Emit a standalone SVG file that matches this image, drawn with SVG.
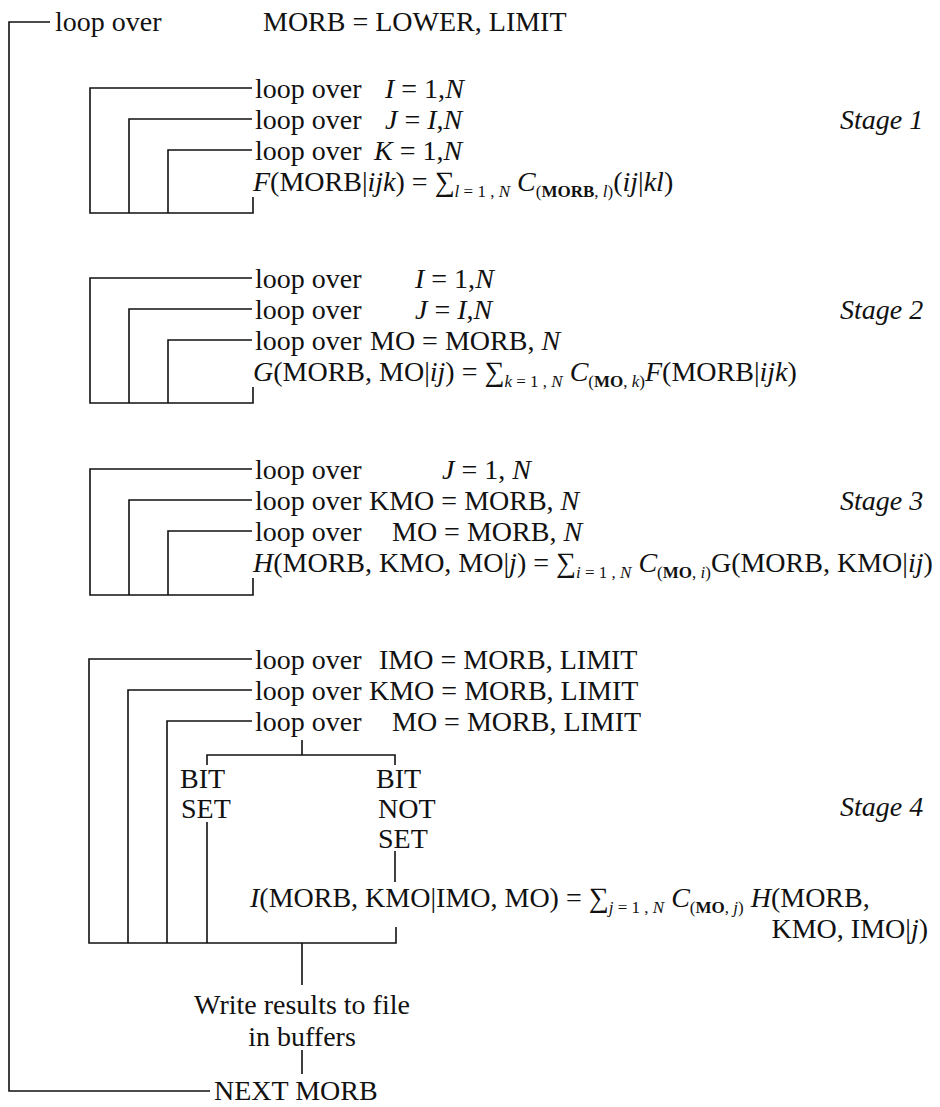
<svg xmlns="http://www.w3.org/2000/svg" width="940" height="1107" viewBox="0 0 940 1107">
<style>
.t{font-family:"Liberation Serif","Times New Roman",serif;font-size:28px;fill:#111}
.i{font-style:italic}
.s{font-size:17px}
.b{font-weight:bold}
.ln{stroke:#111;stroke-width:1.6;fill:none}
</style>
<rect width="940" height="1107" fill="#fff"/>
<g id="connectors" class="ln">
<path d="M50,22H9V1091H210"/>
<path d="M252,88H90V213H253V197"/>
<path d="M252,119H129V213"/>
<path d="M252,150H168V213"/>
<path d="M252,278H90V403H253V387"/>
<path d="M252,309H129V403"/>
<path d="M252,340H168V403"/>
<path d="M252,469H90V595H253V578"/>
<path d="M252,500H129V595"/>
<path d="M252,531H168V595"/>
<path d="M252,659H89V943H396V927"/>
<path d="M252,690H128V943"/>
<path d="M252,721H167V943"/>
<path d="M302,740V755M207,765V755H395V765"/>
<path d="M207,822V943"/>
<path d="M395,851V882"/>
<path d="M302,943V985M302,1050V1074"/>
</g>
<g id="outer-loop">
<text class="t" x="55" y="31">loop over</text>
<text class="t" x="263" y="31">MORB = LOWER, LIMIT</text>
</g>
<g id="stage1">
<text class="t" x="255" y="98">loop over</text>
<text class="t" x="385" y="98"><tspan class="i">I</tspan> = 1,<tspan class="i">N</tspan></text>
<text class="t" x="255" y="129">loop over</text>
<text class="t" x="385" y="129"><tspan class="i">J</tspan> = <tspan class="i">I</tspan>,<tspan class="i">N</tspan></text>
<text class="t" x="255" y="160">loop over</text>
<text class="t" x="374" y="160"><tspan class="i">K</tspan> = 1,<tspan class="i">N</tspan></text>
<text class="t" x="253" y="191"><tspan class="i">F</tspan>(MORB|<tspan class="i">ijk</tspan>) = ∑<tspan dy="6" class="s"><tspan class="i">l</tspan> = 1 , <tspan class="i">N</tspan></tspan><tspan dy="-6"> </tspan><tspan class="i">C</tspan><tspan dy="6" class="s">(<tspan class="b">MORB</tspan>, <tspan class="i">l</tspan>)</tspan><tspan dy="-6">(</tspan><tspan class="i">ij</tspan>|<tspan class="i">kl</tspan>)</text>
<text class="t i" x="840" y="129">Stage 1</text>
</g>
<g id="stage2">
<text class="t" x="255" y="288">loop over</text>
<text class="t" x="415" y="288"><tspan class="i">I</tspan> = 1,<tspan class="i">N</tspan></text>
<text class="t" x="255" y="319">loop over</text>
<text class="t" x="415" y="319"><tspan class="i">J</tspan> = <tspan class="i">I</tspan>,<tspan class="i">N</tspan></text>
<text class="t" x="255" y="350">loop over</text>
<text class="t" x="370" y="350">MO = MORB, <tspan class="i">N</tspan></text>
<text class="t" x="253" y="381"><tspan class="i">G</tspan>(MORB, MO|<tspan class="i">ij</tspan>) = ∑<tspan dy="6" class="s"><tspan class="i">k</tspan> = 1 , <tspan class="i">N</tspan></tspan><tspan dy="-6"> </tspan><tspan class="i">C</tspan><tspan dy="6" class="s">(<tspan class="b">MO</tspan>, <tspan class="i">k</tspan>)</tspan><tspan dy="-6" class="i">F</tspan>(MORB|<tspan class="i">ijk</tspan>)</text>
<text class="t i" x="840" y="319">Stage 2</text>
</g>
<g id="stage3">
<text class="t" x="255" y="479">loop over</text>
<text class="t" x="442" y="479"><tspan class="i">J</tspan> = 1, <tspan class="i">N</tspan></text>
<text class="t" x="255" y="510">loop over</text>
<text class="t" x="369" y="510">KMO = MORB, <tspan class="i">N</tspan></text>
<text class="t" x="255" y="541">loop over</text>
<text class="t" x="392" y="541">MO = MORB, <tspan class="i">N</tspan></text>
<text class="t" x="253" y="572"><tspan class="i">H</tspan>(MORB, KMO, MO|<tspan class="i">j</tspan>) = ∑<tspan dy="6" class="s"><tspan class="i">i</tspan> = 1 , <tspan class="i">N</tspan></tspan><tspan dy="-6"> </tspan><tspan class="i">C</tspan><tspan dy="6" class="s">(<tspan class="b">MO</tspan>, <tspan class="i">i</tspan>)</tspan><tspan dy="-6">G(MORB, KMO|</tspan><tspan class="i">ij</tspan>)</text>
<text class="t i" x="840" y="510">Stage 3</text>
</g>
<g id="stage4">
<text class="t" x="255" y="669">loop over</text>
<text class="t" x="379" y="669">IMO = MORB, LIMIT</text>
<text class="t" x="255" y="700">loop over</text>
<text class="t" x="369" y="700">KMO = MORB, LIMIT</text>
<text class="t" x="255" y="731">loop over</text>
<text class="t" x="392" y="731">MO = MORB, LIMIT</text>
<text class="t i" x="840" y="816">Stage 4</text>
</g>
<g id="bit-set">
<text class="t" x="180" y="788">BIT</text>
<text class="t" x="181" y="818">SET</text>
</g>
<g id="bit-not-set">
<text class="t" x="376" y="788">BIT</text>
<text class="t" x="378" y="818">NOT</text>
<text class="t" x="378" y="848">SET</text>
</g>
<g id="formula-I">
<text class="t" x="250" y="907"><tspan class="i">I</tspan>(MORB, KMO|IMO, MO) = ∑<tspan dy="6" class="s"><tspan class="i">j</tspan> = 1 , <tspan class="i">N</tspan></tspan><tspan dy="-6"> </tspan><tspan class="i">C</tspan><tspan dy="6" class="s">(<tspan class="b">MO</tspan>, <tspan class="i">j</tspan>)</tspan><tspan dy="-6"> </tspan><tspan class="i">H</tspan>(MORB,</text>
<text class="t" x="928" y="938" text-anchor="end">KMO, IMO|<tspan class="i">j</tspan>)</text>
</g>
<g id="write-results">
<text class="t" x="302" y="1014" text-anchor="middle">Write results to file</text>
<text class="t" x="302" y="1046" text-anchor="middle">in buffers</text>
</g>
<g id="next-morb">
<text class="t" x="214" y="1100">NEXT MORB</text>
</g>
</svg>
